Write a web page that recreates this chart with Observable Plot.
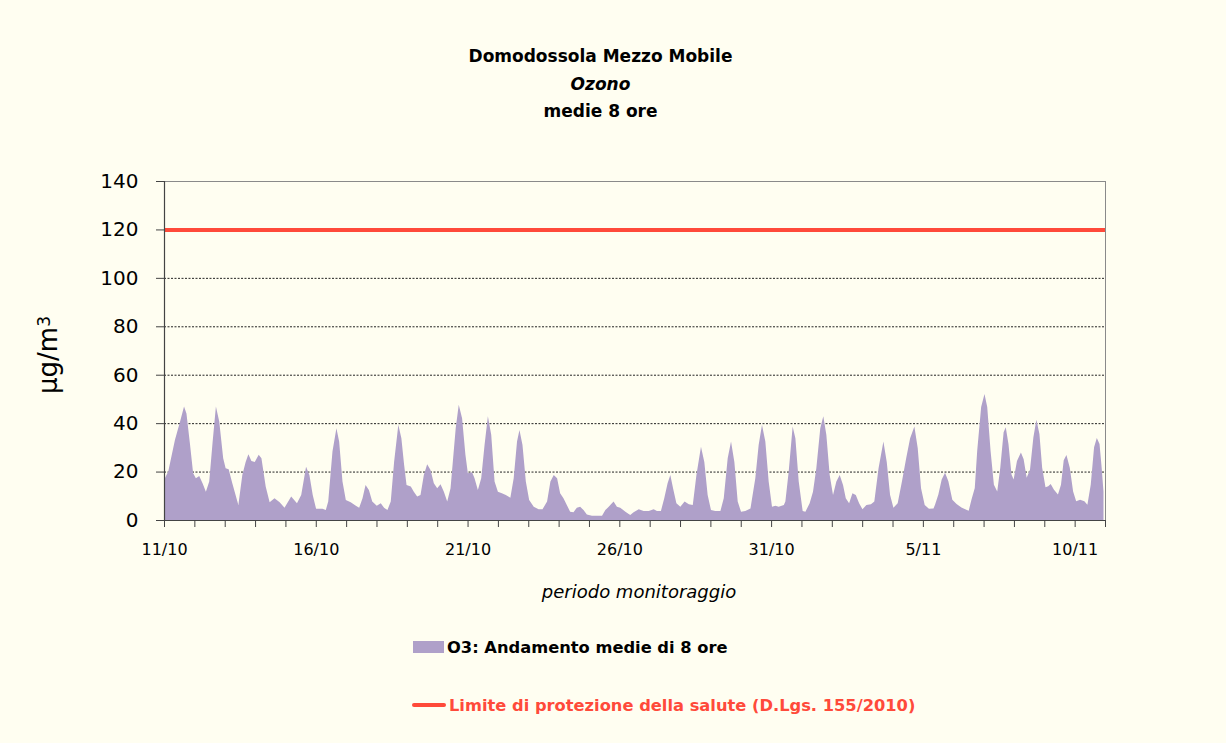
<!DOCTYPE html>
<html>
<head>
<meta charset="utf-8">
<script src="https://cdn.jsdelivr.net/npm/d3@7"></script>
<script src="https://cdn.jsdelivr.net/npm/@observablehq/plot@0.6"></script>
<style>
  html, body { margin: 0; padding: 0; background: #FFFEF1; }
  #wrap { position: relative; width: 1226px; height: 743px; overflow: hidden; background: #FFFEF1;
          font-family: "Comic Sans MS", "DejaVu Sans", sans-serif; }
  #wrap svg { position: absolute; left: 0; top: 0; }
  .title { position: absolute; left: 0; top: 43px; width: 1201px; text-align: center;
           font-size: 17px; font-weight: bold; line-height: 27.5px; color: #000; }
  .ylabel { position: absolute; left: -12px; top: 340px; width: 120px; height: 30px; line-height: 30px;
            text-align: center; font-size: 26px; transform: rotate(-90deg); color: #000; white-space: nowrap; }
  .ylabel sup { font-size: 17px; position: relative; top: -4px; vertical-align: top; }
  .xlabel { position: absolute; left: 439px; top: 583px; width: 400px; text-align: center;
            font-size: 18px; font-style: italic; line-height: 18px; color: #000; }
  .leg { position: absolute; font-size: 16.3px; font-weight: bold; line-height: 16px; white-space: nowrap; }
  .sw { position: absolute; }
</style>
</head>
<body>
<div id="wrap">
  <div class="title">Domodossola Mezzo Mobile<br><i>Ozono</i><br>medie 8 ore</div>
  <div class="ylabel">µg/m<sup>3</sup></div>
  <div class="xlabel">periodo monitoraggio</div>
  <div class="sw" style="left:413px; top:641px; width:31px; height:12px; background:#AFA0C9;"></div>
  <div class="leg" style="left:447px; top:639.5px; color:#000;">O3: Andamento medie di 8 ore</div>
  <div class="sw" style="left:412px; top:702.5px; width:34px; height:4px; border-radius:2px; background:#FF4A3A;"></div>
  <div class="leg" style="left:449px; top:697.5px; color:#FF4A3A;">Limite di protezione della salute (D.Lgs. 155/2010)</div>
</div>
<script>
// Day offsets from 11/10 (00:00) and 8-hour mean ozone values (µg/m³)
const dayOffset = [
  0, 0.14, 0.36, 0.53, 0.66, 0.74, 0.85, 0.96, 1.05, 1.16, 1.27, 1.38, 1.49, 1.60, 1.71, 1.82, 1.95,
  2.03, 2.13, 2.25, 2.45, 2.58, 2.69, 2.78, 2.88, 2.99, 3.12, 3.21, 3.35, 3.48, 3.64, 3.81, 3.97,
  4.19, 4.38, 4.52, 4.68, 4.79, 4.90, 5.01, 5.22, 5.33, 5.41, 5.55, 5.68, 5.77, 5.88, 5.99,
  6.15, 6.32, 6.43, 6.54, 6.64, 6.75, 6.86, 7.01, 7.14, 7.25, 7.36, 7.47, 7.58, 7.72, 7.82, 7.91, 7.99,
  8.13, 8.23, 8.34, 8.45, 8.56, 8.67, 8.78, 8.89, 9.00, 9.11, 9.22, 9.33, 9.44, 9.61, 9.71, 9.82, 9.93,
  10.01, 10.15, 10.23, 10.34, 10.45, 10.56, 10.67, 10.78, 10.89, 11.00, 11.13, 11.26, 11.41, 11.52,
  11.63, 11.71, 11.81, 11.92, 12.03, 12.18, 12.34, 12.47, 12.62, 12.73, 12.84, 12.95, 13.05, 13.16,
  13.27, 13.38, 13.49, 13.60, 13.71, 13.82, 13.93, 14.10, 14.26, 14.43, 14.54, 14.65, 14.81, 14.92,
  15.03, 15.20, 15.31, 15.36, 15.47, 15.64, 15.80, 15.97, 16.13, 16.24, 16.37, 16.48, 16.59, 16.68,
  16.77, 16.88, 17.01, 17.15, 17.29, 17.42, 17.54, 17.69, 17.80, 17.91, 18.02, 18.16, 18.33, 18.44,
  18.57, 18.68, 18.79, 18.90, 19.01, 19.15, 19.32, 19.48, 19.59, 19.70, 19.81, 19.92, 20.03, 20.14,
  20.25, 20.42, 20.47, 20.58, 20.71, 20.80, 20.91, 21.04, 21.13, 21.27, 21.38, 21.49, 21.62, 21.72,
  21.82, 21.93, 22.04, 22.15, 22.26, 22.37, 22.46, 22.57, 22.68, 22.79, 22.90, 23.01, 23.14, 23.29,
  23.40, 23.54, 23.70, 23.81, 23.92, 24.03, 24.17, 24.31, 24.45, 24.58, 24.72, 24.83, 24.94, 25.06,
  25.20, 25.35, 25.40, 25.51, 25.62, 25.73, 25.84, 25.97, 26.11, 26.27, 26.43, 26.51, 26.60, 26.71,
  26.79, 26.92, 27.03, 27.12, 27.23, 27.34, 27.45, 27.55, 27.66, 27.73, 27.82, 27.92, 27.99, 28.10,
  28.23, 28.32, 28.42, 28.53, 28.64, 28.74, 28.84, 28.93, 29.04, 29.13, 29.21, 29.32, 29.45, 29.55,
  29.64, 29.73, 29.84, 29.95, 30.05, 30.18, 30.32, 30.42, 30.53, 30.64, 30.73, 30.82, 30.89, 30.95
];
const o3 = [
  16.5, 20, 33, 40.7, 46.9, 44, 32, 19.3, 17.2, 18.2, 15.2, 11.7, 15.9, 32, 46.9, 40.7, 25.5,
  21.4, 21, 15.2, 6.2, 18.6, 24, 27.2, 24.4, 24, 26.9, 25.5, 13.8, 7.3, 9, 7.3, 5.1,
  9.7, 6.9, 10.3, 22, 18.6, 10.3, 4.6, 4.6, 4.1, 7.6, 28.3, 37.9, 32.4, 15.9, 8.3,
  7.3, 5.9, 5.1, 9, 14.5, 12.4, 7.6, 5.9, 6.9, 5.1, 4.1, 7.6, 24, 39.3, 33.8, 22.8, 14.5,
  13.8, 11.7, 9.7, 10.3, 18.6, 23, 20.7, 15.2, 13.1, 14.8, 11.7, 7.6, 13.1, 37.9, 47.6, 42, 26.9,
  19.3, 19.7, 17.2, 12.4, 17.2, 31, 42.8, 35.2, 15.9, 11.7, 11, 10.3, 9.2, 17.2,
  32.4, 37.2, 31, 15.9, 8.3, 5.5, 4.4, 4.4, 7.6, 15.9, 18.6, 17.2, 11, 9,
  6.2, 3.4, 3.2, 5.1, 5.5, 4.1, 2.3, 1.8, 1.8, 1.8, 4.1, 5.5, 7.6, 5.5,
  5.1, 3.4, 2.5, 2.1, 3.2, 4.4, 3.7, 3.7, 4.4, 3.7, 3.7, 9, 15.2, 18.6,
  13.1, 6.9, 5.5, 7.6, 6.5, 6.2, 18.6, 30.3, 24, 10.3, 4.1, 3.7, 3.7, 9,
  25.5, 32.4, 24, 7.6, 3.4, 3.7, 4.8, 17.2, 31, 39.3, 32.4, 15.9, 5.5, 5.9,
  5.5, 6.2, 7.6, 20, 38.6, 33.8, 15.9, 3.7, 3.4, 6.9, 11.7, 21.4, 37.9, 42.8,
  35.2, 18.6, 10.3, 15.9, 18.6, 14.5, 9, 6.9, 11, 10.3, 6.9, 4.4, 6.2, 6.5,
  7.6, 21.4, 32.4, 24, 10.3, 5.1, 6.9, 15.9, 25.5, 33.8, 38.6, 29.7, 13.1, 6.2,
  4.6, 4.8, 6.3, 10.5, 16.7, 19.5, 16, 8.4, 6.6, 5.2, 4.2, 3.8, 8.4, 13.2,
  28.6, 46.7, 52, 46.7, 28.6, 14.6, 11.8, 21.6, 36.2, 38.3, 31.4, 18.8, 16.7, 24.4,
  27.9, 25.1, 17.4, 20.9, 34.1, 41.4, 35.5, 21.6, 13.5, 13.9, 14.9, 12.5, 10.5, 14.6,
  24.7, 26.8, 21.6, 11.8, 7.7, 8.4, 7.7, 6.3, 14.6, 30, 33.9, 31.4, 21.6, 11.8
];
const limitValue = 120;
const yTicks = [0, 20, 40, 60, 80, 100, 120, 140];
const gridValues = [20, 40, 60, 80, 100];
const allDayTicks = d3.range(0, 32);
const labelDays = [0, 5, 10, 15, 20, 25, 30];
const tickLabels = ["11/10", "16/10", "21/10", "26/10", "31/10", "5/11", "10/11"];

const data = dayOffset.map((d, i) => ({day: d, value: o3[i]}));
const labelMap = new Map(labelDays.map((d, i) => [d, tickLabels[i]]));

const chart = Plot.plot({
  width: 1226,
  height: 743,
  marginTop: 181,
  marginBottom: 223,
  marginLeft: 164,
  marginRight: 121,
  style: {background: "transparent", fontFamily: "'Comic Sans MS', 'DejaVu Sans', sans-serif", fontSize: "16px", color: "#000", overflow: "visible"},
  x: {domain: [0, 31]},
  y: {domain: [0, 140]},
  marks: [
    Plot.ruleY(gridValues, {stroke: "#222", strokeWidth: 1, strokeDasharray: "2,1.5"}),
    Plot.areaY(data, {x: "day", y: "value", fill: "#AFA0C9"}),
    Plot.ruleY([140], {stroke: "#8a8a8a", strokeWidth: 1}),
    Plot.ruleX([31], {stroke: "#8a8a8a", strokeWidth: 1}),
    Plot.ruleY([limitValue], {stroke: "#FF4A3A", strokeWidth: 4}),
    Plot.ruleY([0], {stroke: "#444", strokeWidth: 1.2}),
    Plot.ruleX([0], {stroke: "#444", strokeWidth: 1.2}),
    Plot.axisY({ticks: yTicks, tickSize: 8, tickPadding: 18, fontSize: 20, label: null, stroke: "#444"}),
    Plot.axisX({ticks: allDayTicks, tickSize: 7, tickFormat: () => "", label: null, stroke: "#444"}),
    Plot.axisX({ticks: labelDays, tickSize: 0, tickPadding: 23, fontSize: 16, tickFormat: d => labelMap.get(d), label: null})
  ]
});
document.getElementById("wrap").prepend(chart);
</script>
</body>
</html>
